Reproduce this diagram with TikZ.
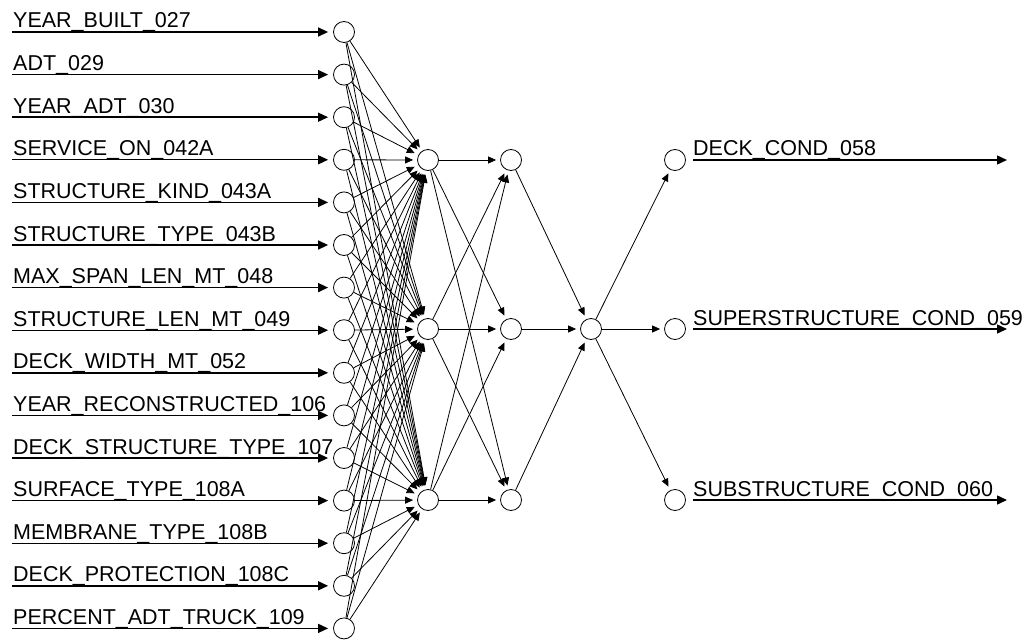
\documentclass[tikz,border=0pt]{standalone}
\usepackage{fontspec}
\setmainfont{Liberation Sans}
\usetikzlibrary{arrows.meta}
\begin{document}
\begin{tikzpicture}[x=1pt,y=-1pt,
  neuron/.style={circle,draw,line width=0.8pt,inner sep=0pt,minimum size=21pt,fill=white},
  link/.style={line width=0.8pt,-{Triangle[length=8pt,width=7pt]},shorten >=4pt},
  feed/.style={line width=1.4pt,-{Triangle[length=10pt,width=9pt]}},
  tag/.style={anchor=base west,inner sep=0pt,font=\fontsize{21.5}{24}\selectfont}]
\useasboundingbox (0,0) rectangle (1032,639);

% hidden, combining and output units
\foreach \j/\y in {1/160,2/329,3/500}{
  \node[neuron] (ha\j) at (428,\y) {};
  \node[neuron] (hb\j) at (511,\y) {};
  \node[neuron] (out\j) at (675,\y) {};
}
\node[neuron] (mix) at (591,329) {};

% input units with their labelled feed lines
\foreach \t [count=\i] in {YEAR\_BUILT\_027, ADT\_029, YEAR\_ADT\_030,
    SERVICE\_ON\_042A, STRUCTURE\_KIND\_043A, STRUCTURE\_TYPE\_043B,
    MAX\_SPAN\_LEN\_MT\_048, STRUCTURE\_LEN\_MT\_049, DECK\_WIDTH\_MT\_052,
    YEAR\_RECONSTRUCTED\_106, DECK\_STRUCTURE\_TYPE\_107, SURFACE\_TYPE\_108A,
    MEMBRANE\_TYPE\_108B, DECK\_PROTECTION\_108C, PERCENT\_ADT\_TRUCK\_109}{
  \node[neuron] (in\i) at (344,{42.6*\i-10.6}) {};
  \coordinate (src\i) at (12,{42.6*\i-10.6});
  \draw[feed,shorten >=5pt] (src\i) -- (in\i);
  \node[tag] (lab\i) at (13,{42.6*\i-14.6}) {\t};
}

% input -> first hidden layer
\foreach \i in {1,...,15}
  \foreach \j in {1,2,3}
    \draw[link] (in\i) -- (ha\j);

% first -> second hidden layer
\foreach \i in {1,2,3}
  \foreach \j in {1,2,3}
    \draw[link] (ha\i) -- (hb\j);

% second hidden layer -> combining unit -> outputs
\foreach \j in {1,2,3}{
  \draw[link] (hb\j) -- (mix);
  \draw[link] (mix) -- (out\j);
}

% labelled output lines
\foreach \t [count=\j] in {DECK\_COND\_058, SUPERSTRUCTURE\_COND\_059, SUBSTRUCTURE\_COND\_060}{
  \coordinate (dst\j) at (1007,{\j==1?160:(\j==2?329:500)});
  \draw[feed,shorten <=7pt] (out\j) -- (dst\j);
  \node[tag] (olab\j) at (693,{\j==1?156:(\j==2?325:496)}) {\t};
}
\end{tikzpicture}
\end{document}
